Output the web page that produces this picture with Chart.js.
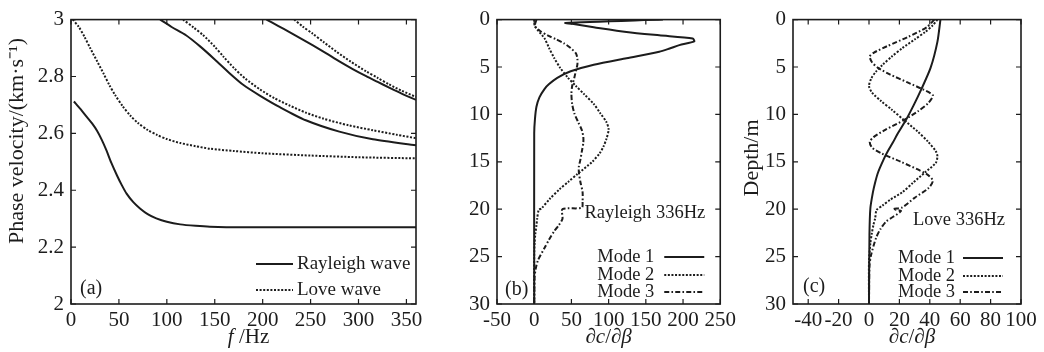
<!DOCTYPE html>
<html>
<head>
<meta charset="utf-8">
<script src="https://cdn.jsdelivr.net/npm/chart.js@4.4.0/dist/chart.umd.min.js"></script>
<style>
  body { margin: 0; background: #fff; }
  #wrap { position: relative; width: 1044px; height: 352px; overflow: hidden; }
  .panel { position: absolute; top: 0; }
</style>
</head>
<body>
<div id="wrap">
  <div class="panel" style="left:0"><canvas id="chartA" width="440" height="352"></canvas></div>
  <div class="panel" style="left:440px"><canvas id="chartB" width="300" height="352"></canvas></div>
  <div class="panel" style="left:740px"><canvas id="chartC" width="304" height="352"></canvas></div>
</div>
<script>
// ---- Panel (a): phase velocity dispersion curves ----
const aTicksX = [0, 50, 100, 150, 200, 250, 300, 350];
const aTicksY = [2, 2.2, 2.4, 2.6, 2.8, 3];

const rayleigh1F = [3, 10, 16, 22, 27, 32, 37, 42, 48, 53, 58, 65, 72, 80, 89, 100, 114, 130, 145, 180, 250, 360];
const rayleigh1V = [2.712, 2.685, 2.66, 2.635, 2.61, 2.578, 2.54, 2.497, 2.452, 2.418, 2.388, 2.358, 2.336, 2.316, 2.301, 2.289, 2.28, 2.275, 2.272, 2.27, 2.27, 2.27];
const love1F = [2, 8, 14, 20, 27, 34, 40, 46, 54, 62, 70, 80, 90, 100, 114, 130, 145, 170, 200, 250, 300, 360];
const love1V = [3.0, 2.975, 2.94, 2.9, 2.855, 2.81, 2.77, 2.735, 2.695, 2.662, 2.636, 2.612, 2.594, 2.58, 2.566, 2.555, 2.546, 2.538, 2.53, 2.522, 2.516, 2.512];
const rayleigh2F = [93, 105, 120, 135, 150, 166, 180, 197, 218, 245, 280, 315, 360];
const rayleigh2V = [3.0, 2.974, 2.945, 2.905, 2.86, 2.81, 2.77, 2.733, 2.692, 2.646, 2.606, 2.579, 2.558];
const love2F = [117, 128, 138, 150, 159, 170, 182, 197, 212, 228, 245, 263, 290, 315, 340, 360];
const love2V = [3.0, 2.972, 2.945, 2.905, 2.87, 2.83, 2.792, 2.755, 2.724, 2.698, 2.673, 2.652, 2.628, 2.611, 2.595, 2.583];
const rayleigh3F = [204, 216, 228, 240, 252, 266, 280, 294, 308, 320, 332, 345, 360];
const rayleigh3V = [3.0, 2.978, 2.956, 2.933, 2.91, 2.882, 2.853, 2.826, 2.801, 2.781, 2.761, 2.74, 2.718];
const love3F = [233, 242, 252, 264, 277, 292, 308, 320, 332, 345, 360];
const love3V = [3.0, 2.975, 2.951, 2.92, 2.887, 2.852, 2.818, 2.795, 2.772, 2.75, 2.728];

// ---- Panel (b): Rayleigh 336Hz sensitivity kernels ----
const bTicksX = [-50, 0, 50, 100, 150, 200, 250];
const depthTicks = [0, 5, 10, 15, 20, 25, 30];

const bMode1Depth = [0, 0.35, 0.5, 0.8, 1.3, 1.66, 2.0, 2.3, 2.69, 3.05, 3.4, 4.07, 4.76, 5.45, 6.14, 6.8, 7.3, 8.2, 9.2, 10.5, 12, 30];
const bMode1Val = [173, 42, 55, 80, 124, 168, 213, 215, 195, 182, 168, 124, 80, 49, 31, 20, 14, 7, 3, 1, 0, 0];
const bMode2Depth = [0, 0.7, 2.0, 3.0, 4.07, 5.1, 6.1, 7.0, 7.86, 8.9, 9.9, 10.8, 11.6, 12.6, 13.4, 14.1, 15.0, 16.3, 17.1, 17.9, 18.9, 19.9, 20.1, 21.0, 21.7, 22.6, 23.6, 25, 30];
const bMode2Val = [0, 1, 14, 20, 27, 35, 45, 56, 67, 80, 89, 97, 100, 97, 93, 88, 78, 58, 46, 34, 21, 10, 6, 4, 3, 1.5, 0.5, 0, 0];
const bMode3Depth = [0, 0.7, 1.2, 1.66, 2.1, 2.5, 3.0, 3.55, 4.1, 4.76, 5.4, 6.1, 7.0, 7.86, 8.9, 9.9, 10.8, 11.66, 12.4, 13.0, 13.9, 14.8, 15.5, 16.1, 17.1, 18.2, 19.2, 19.85, 20.0, 21.0, 21.7, 22.3, 23.2, 24.07, 25.4, 26.3, 27.2, 30];
const bMode3Val = [3, 1, 8, 18, 30, 40, 49, 56, 58, 58, 56, 54, 51, 50, 51, 54, 59, 64, 66, 66, 64, 62, 60, 60, 62, 65, 65, 64, 38, 38, 33, 27, 20, 14, 5, 2, 0.5, 0];

// ---- Panel (c): Love 336Hz sensitivity kernels ----
const cTicksX = [-40, -20, 0, 20, 40, 60, 80, 100];

const cMode1Depth = [0, 2.35, 5.1, 7.5, 9.0, 10.6, 12.0, 13.0, 14.0, 14.8, 16.1, 17.2, 18.2, 19.9, 22.7, 30];
const cMode1Val = [47, 45, 40.5, 34, 29.5, 24.3, 19, 15.6, 12, 9.5, 6, 4, 2.6, 0.9, 0.3, 0];
const cMode2Depth = [0, 0.6, 1.3, 2.1, 3.0, 3.9, 4.76, 5.5, 6.2, 7.0, 7.7, 8.6, 9.5, 10.6, 11.8, 12.9, 13.9, 14.4, 15.1, 16.1, 17.2, 18.2, 19.0, 19.6, 20.1, 21.0, 21.6, 22.6, 23.6, 25.5, 30];
const cMode2Val = [45, 42, 37, 30, 22, 15, 9, 4.5, 1.5, 0, 2, 8, 15, 23, 32, 39, 44, 45, 44, 37, 29, 22, 14, 9, 5, 4, 3, 1.8, 0.9, 0, 0];
const cMode3Depth = [0, 0.8, 1.8, 2.8, 3.5, 3.9, 4.5, 5.1, 5.8, 6.6, 7.4, 8.0, 8.8, 9.7, 10.6, 11.6, 12.4, 12.9, 13.5, 14.1, 15.0, 16.3, 17.0, 17.8, 18.8, 19.8, 20.0, 20.2, 21.3, 22.1, 23.0, 24.8, 26, 30];
const cMode3Val = [43, 38, 26, 12, 3, 0.5, 2, 6, 14, 25, 36, 42, 39, 32, 23, 11, 3, 0.5, 2, 8, 21, 38, 42, 39, 30, 22, 16, 21, 11.3, 7.5, 4.7, 1.4, 0.3, 0];

// Styles
const ink = '#1c1c1c';
const serif = '"Liberation Serif", "Times New Roman", serif';
const tickFont = { family: serif, size: 21 };
const dotted = [2, 1.6];
const dashDot = [5, 2.2, 1.6, 2.2];

function pairs(xs, ys) {
    return xs.map((x, i) => ({ x: x, y: ys[i] }));
}

function curve(label, points, dash) {
    return {
        label: label,
        data: points,
        showLine: true,
        borderColor: ink,
        borderWidth: 2,
        borderDash: dash || [],
        pointRadius: 0,
        tension: 0.25
    };
}

// Draw text made of plain/italic pieces
function drawRich(ctx, parts, x, y, align, size) {
    const fontFor = (it) => (it ? 'italic ' : '') + size + 'px ' + serif;
    let total = 0;
    parts.forEach(p => { ctx.font = fontFor(p[1]); total += ctx.measureText(p[0]).width; });
    let cx = align === 'center' ? x - total / 2 : (align === 'right' ? x - total : x);
    ctx.textAlign = 'left';
    ctx.textBaseline = 'middle';
    ctx.fillStyle = ink;
    parts.forEach(p => {
        ctx.font = fontFor(p[1]);
        ctx.fillText(p[0], cx, y);
        cx += ctx.measureText(p[0]).width;
    });
}

function hline(ctx, x1, x2, y, dash) {
    ctx.save();
    ctx.strokeStyle = ink;
    ctx.lineWidth = 2;
    ctx.setLineDash(dash);
    ctx.beginPath();
    ctx.moveTo(x1, y);
    ctx.lineTo(x2, y);
    ctx.stroke();
    ctx.restore();
}

// Frame with inward ticks on all four sides
const frameTicks = {
    id: 'frameTicks',
    afterDatasetsDraw(chart) {
        const { ctx, chartArea: a, scales } = chart;
        const len = 5;
        ctx.save();
        ctx.strokeStyle = ink;
        ctx.lineWidth = 1.6;
        ctx.setLineDash([]);
        ctx.strokeRect(a.left, a.top, a.right - a.left, a.bottom - a.top);
        ctx.lineWidth = 1.2;
        ctx.beginPath();
        scales.x.ticks.forEach(t => {
            const px = scales.x.getPixelForValue(t.value);
            ctx.moveTo(px, a.bottom); ctx.lineTo(px, a.bottom - len);
            ctx.moveTo(px, a.top); ctx.lineTo(px, a.top + len);
        });
        scales.y.ticks.forEach(t => {
            const py = scales.y.getPixelForValue(t.value);
            ctx.moveTo(a.left, py); ctx.lineTo(a.left + len, py);
            ctx.moveTo(a.right, py); ctx.lineTo(a.right - len, py);
        });
        ctx.stroke();
        ctx.restore();
    }
};

function axisX(min, max, ticks) {
    return {
        type: 'linear', min: min, max: max,
        afterBuildTicks: s => { s.ticks = ticks.map(v => ({ value: v })); },
        afterFit: s => { s.height = 48; },
        grid: { display: false, drawTicks: false },
        border: { display: false },
        ticks: { padding: 4, color: ink, font: tickFont, autoSkip: false, maxRotation: 0, callback: v => String(v) }
    };
}

function axisY(min, max, ticks, width, reverse) {
    return {
        type: 'linear', min: min, max: max, reverse: !!reverse,
        afterBuildTicks: s => { s.ticks = ticks.map(v => ({ value: v })); },
        afterFit: s => { s.width = width; },
        grid: { display: false, drawTicks: false },
        border: { display: false },
        ticks: { padding: 7, color: ink, font: tickFont, autoSkip: false, callback: v => String(v) }
    };
}

function makeChart(id, datasets, scaleX, scaleY, padRight, decorate) {
    return new Chart(document.getElementById(id), {
        type: 'scatter',
        data: { datasets: datasets },
        options: {
            responsive: false,
            animation: false,
            devicePixelRatio: 1,
            layout: { padding: { top: 14, right: padRight, bottom: 0, left: 0 } },
            plugins: { legend: { display: false }, tooltip: { enabled: false } },
            scales: { x: scaleX, y: scaleY }
        },
        plugins: [frameTicks, { id: 'decor', afterDraw: decorate }]
    });
}

// (a)
makeChart('chartA', [
    curve('Rayleigh 1', pairs(rayleigh1F, rayleigh1V)),
    curve('Love 1', pairs(love1F, love1V), dotted),
    curve('Rayleigh 2', pairs(rayleigh2F, rayleigh2V)),
    curve('Love 2', pairs(love2F, love2V), dotted),
    curve('Rayleigh 3', pairs(rayleigh3F, rayleigh3V)),
    curve('Love 3', pairs(love3F, love3V), dotted)
], axisX(0, 360, aTicksX), axisY(2, 3, aTicksY, 71), 24, (chart) => {
    const { ctx, chartArea: a } = chart;
    ctx.save();
    hline(ctx, a.right - 160, a.right - 123, a.bottom - 40, []);
    hline(ctx, a.right - 160, a.right - 123, a.bottom - 14, dotted);
    drawRich(ctx, [['Rayleigh wave', false]], a.right - 119, a.bottom - 40, 'left', 19);
    drawRich(ctx, [['Love wave', false]], a.right - 119, a.bottom - 14, 'left', 19);
    drawRich(ctx, [['(a)', false]], a.left + 9, a.bottom - 15, 'left', 20);
    drawRich(ctx, [['f', true], [' /Hz', false]], (a.left + a.right) / 2 + 5, 337, 'center', 21);
    ctx.translate(17, 141);
    ctx.rotate(-Math.PI / 2);
    drawRich(ctx, [['Phase velocity/(km\u00B7s\u207B\u00B9)', false]], 0, 0, 'center', 22);
    ctx.restore();
});

// legend block used by (b) and (c)
function modeLegend(ctx, a, textRight, lineL, lineR, ys) {
    const dashes = [[], dotted, dashDot];
    ['Mode 1', 'Mode 2', 'Mode 3'].forEach((m, i) => {
        drawRich(ctx, [[m, false]], a.right - textRight, a.bottom - ys[i], 'right', 18.5);
        hline(ctx, a.right - lineL, a.right - lineR, a.bottom - ys[i], dashes[i]);
    });
}

// (b)
makeChart('chartB', [
    curve('Mode 1', pairs(bMode1Val, bMode1Depth)),
    curve('Mode 2', pairs(bMode2Val, bMode2Depth), dotted),
    curve('Mode 3', pairs(bMode3Val, bMode3Depth), dashDot)
], axisX(-50, 250, bTicksX), axisY(0, 30, depthTicks, 57, true), 17, (chart) => {
    const { ctx, chartArea: a } = chart;
    ctx.save();
    drawRich(ctx, [['Rayleigh 336Hz', false]], a.right - 15, a.bottom - 91, 'right', 18.5);
    modeLegend(ctx, a, 66, 56, 16, [47, 29, 12]);
    drawRich(ctx, [['(b)', false]], a.left + 8, a.bottom - 14, 'left', 20);
    drawRich(ctx, [['\u2202', false], ['c', true], ['/\u2202', false], ['\u03B2', true]], (a.left + a.right) / 2, 337, 'center', 21);
    ctx.translate(452, 154);
    ctx.rotate(-Math.PI / 2);
    drawRich(ctx, [['Depth/m', false]], 0, 0, 'center', 22);
    ctx.restore();
});

// (c)
makeChart('chartC', [
    curve('Mode 1', pairs(cMode1Val, cMode1Depth)),
    curve('Mode 2', pairs(cMode2Val, cMode2Depth), dotted),
    curve('Mode 3', pairs(cMode3Val, cMode3Depth), dashDot)
], axisX(-50, 100, cTicksX), axisY(0, 30, depthTicks, 53, true), 23, (chart) => {
    const { ctx, chartArea: a } = chart;
    ctx.save();
    drawRich(ctx, [['Love 336Hz', false]], a.right - 16, a.bottom - 84, 'right', 18.5);
    modeLegend(ctx, a, 66, 58, 18, [46, 28, 12]);
    drawRich(ctx, [['(c)', false]], a.left + 10, a.bottom - 17, 'left', 20);
    drawRich(ctx, [['\u2202', false], ['c', true], ['/\u2202', false], ['\u03B2', true]], (a.left + a.right) / 2 + 5, 337, 'center', 21);
    ctx.translate(752 - 740, 158);
    ctx.rotate(-Math.PI / 2);
    drawRich(ctx, [['Depth/m', false]], 0, 0, 'center', 22);
    ctx.restore();
});
</script>
</body>
</html>
